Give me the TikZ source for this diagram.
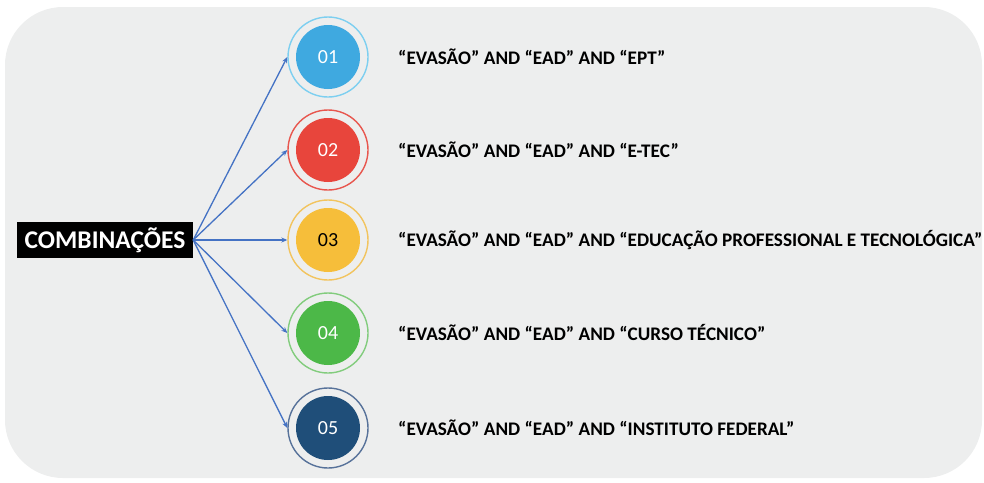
\documentclass[tikz,border=0pt]{standalone}
\usepackage{fontspec}
\setmainfont{Carlito}
\usetikzlibrary{arrows.meta}

\definecolor{panel}{HTML}{EDEEEE}
\definecolor{arrowblue}{HTML}{4472C4}
\definecolor{cA}{HTML}{3FA9E0}\definecolor{rA}{HTML}{7DCFF0}
\definecolor{cB}{HTML}{E8453C}\definecolor{rB}{HTML}{E8564E}
\definecolor{cC}{HTML}{F6BE3A}\definecolor{rC}{HTML}{F2C45E}
\definecolor{cD}{HTML}{4CB848}\definecolor{rD}{HTML}{82CC7D}
\definecolor{cE}{HTML}{1F4E79}\definecolor{rE}{HTML}{57729A}

\tikzset{
  disc/.style={circle, minimum size=64pt, inner sep=0pt, font=\fontsize{20}{20}\selectfont},
  ring/.style={circle, minimum size=80pt, inner sep=0pt, line width=1.4pt},
  query/.style={anchor=west, inner sep=0pt, font=\fontsize{19.2}{20}\selectfont\bfseries},
  link/.style={arrowblue, line width=1.3pt, -{Stealth[length=6pt,width=5pt]}},
}

\begin{document}
\begin{tikzpicture}[x=1pt,y=-1pt]
  \useasboundingbox (0,0) rectangle (984,482);
  \fill[panel, rounded corners=58pt] (5,7) rectangle (982,478);

  % central label
  \node[fill=black, text=white, font=\fontsize{25.5}{26}\selectfont\bfseries,
        minimum width=176pt, minimum height=36pt, inner sep=0pt] (comb) at (105,240) {COMBINAÇÕES};

  % numbered markers
  \foreach \n/\y/\c/\r/\t in {1/57/cA/rA/white, 2/150/cB/rB/white, 3/240/cC/rC/black, 4/333/cD/rD/white, 5/428/cE/rE/white}{
    \node[ring, draw=\r] (r\n) at (328,\y) {};
    \node[disc, fill=\c, text=\t] (d\n) at (328,\y) {0\n};
  }

  % search strings
  \node[query] (q1) at (398,57)  {“EVASÃO” AND “EAD” AND “EPT”};
  \node[query] (q2) at (398,150) {“EVASÃO” AND “EAD” AND “E-TEC”};
  \node[query] (q3) at (398,240) {“EVASÃO” AND “EAD” AND “EDUCAÇÃO PROFESSIONAL E TECNOLÓGICA”};
  \node[query] (q4) at (398,333) {“EVASÃO” AND “EAD” AND “CURSO TÉCNICO”};
  \node[query] (q5) at (398,428) {“EVASÃO” AND “EAD” AND “INSTITUTO FEDERAL”};

  % connectors
  \foreach \n in {1,...,5}{
    \draw[link] (comb.east) -- (r\n.west);
  }
\end{tikzpicture}
\end{document}
